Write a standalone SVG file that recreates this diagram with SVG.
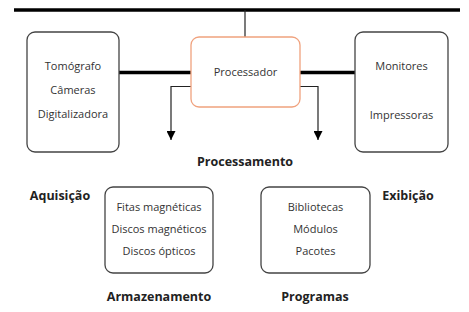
<svg xmlns="http://www.w3.org/2000/svg" width="469" height="312" viewBox="0 0 469 312">
<defs>
<style>
.box{fill:#fff;stroke:#444;stroke-width:1.3}
.proc{fill:#fff;stroke:#f0a27e;stroke-width:1.3}
.t{font-family:"Open Sans","Liberation Sans",sans-serif;font-size:11px;fill:#333;text-anchor:middle}
.b{font-family:"Open Sans","Liberation Sans",sans-serif;font-size:12.5px;font-weight:bold;fill:#222;text-anchor:middle}
.thick{stroke:#000;stroke-width:3.5;fill:none}
.thin{stroke:#222;stroke-width:1.2;fill:none}
</style>
<marker id="ah" viewBox="0 0 10 10" refX="10" refY="5" markerWidth="9" markerHeight="9" markerUnits="userSpaceOnUse" orient="auto">
<path d="M0,0 L10,5 L0,10 Z" fill="#000"/>
</marker>
</defs>
<rect width="469" height="312" fill="#fff"/>
<g id="connectors">
<line class="thick" x1="14" y1="10" x2="460" y2="10"/>
<line class="thin" x1="245" y1="10" x2="245" y2="37"/>
<line class="thick" x1="119" y1="72.5" x2="191" y2="72.5"/>
<line class="thick" x1="300" y1="72.5" x2="355" y2="72.5"/>
<polyline class="thin" points="191,86.5 171,86.5 171,140" marker-end="url(#ah)"/>
<polyline class="thin" points="300,86.5 318,86.5 318,140" marker-end="url(#ah)"/>
</g>
<g id="aquisicao">
<rect class="box" x="27" y="32" width="92" height="120" rx="8"/>
<text class="t" x="73" y="70">Tomógrafo</text>
<text class="t" x="73" y="94">Câmeras</text>
<text class="t" x="73" y="118">Digitalizadora</text>
</g>
<g id="processador">
<rect class="proc" x="191" y="37" width="109" height="70" rx="8"/>
<text class="t" x="245.5" y="76">Processador</text>
</g>
<g id="exibicao">
<rect class="box" x="355" y="32" width="93" height="120" rx="8"/>
<text class="t" x="401.5" y="70">Monitores</text>
<text class="t" x="401.5" y="119">Impressoras</text>
</g>
<g id="armazenamento">
<rect class="box" x="105" y="187" width="108" height="86" rx="8"/>
<text class="t" x="159" y="211">Fitas magnéticas</text>
<text class="t" x="159" y="233">Discos magnéticos</text>
<text class="t" x="159" y="255">Discos ópticos</text>
</g>
<g id="programas">
<rect class="box" x="261" y="187" width="109" height="86" rx="8"/>
<text class="t" x="315.5" y="211">Bibliotecas</text>
<text class="t" x="315.5" y="233">Módulos</text>
<text class="t" x="315.5" y="255">Pacotes</text>
</g>
<g id="labels">
<text class="b" x="245" y="166">Processamento</text>
<text class="b" x="60" y="200">Aquisição</text>
<text class="b" x="408" y="200">Exibição</text>
<text class="b" x="159" y="301">Armazenamento</text>
<text class="b" x="315" y="301">Programas</text>
</g>
</svg>
